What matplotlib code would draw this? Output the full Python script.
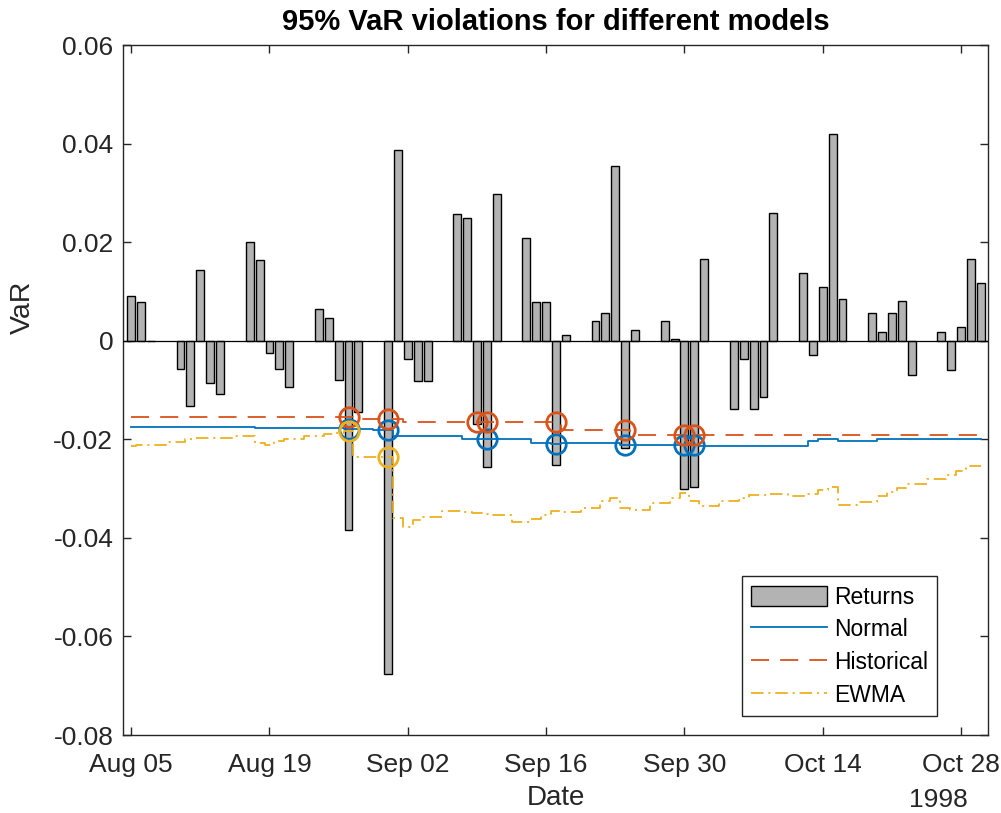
import matplotlib

matplotlib.use("Agg")

import matplotlib.dates as mdates
import matplotlib.pyplot as plt
import numpy as np

plt.rcParams["font.family"] = ["Liberation Sans", "DejaVu Sans"]
plt.rcParams["lines.scale_dashes"] = False

# trading days shown in the chart (Aug 05 - Oct 30, 1998)
dates = np.array([
    "1998-08-05", "1998-08-06", "1998-08-07", "1998-08-10", "1998-08-11", "1998-08-12",
    "1998-08-13", "1998-08-14", "1998-08-17", "1998-08-18", "1998-08-19", "1998-08-20",
    "1998-08-21", "1998-08-24", "1998-08-25", "1998-08-26", "1998-08-27", "1998-08-28",
    "1998-08-31", "1998-09-01", "1998-09-02", "1998-09-03", "1998-09-04", "1998-09-07",
    "1998-09-08", "1998-09-09", "1998-09-10", "1998-09-11", "1998-09-14", "1998-09-15",
    "1998-09-16", "1998-09-17", "1998-09-18", "1998-09-21", "1998-09-22", "1998-09-23",
    "1998-09-24", "1998-09-25", "1998-09-28", "1998-09-29", "1998-09-30", "1998-10-01",
    "1998-10-02", "1998-10-05", "1998-10-06", "1998-10-07", "1998-10-08", "1998-10-09",
    "1998-10-12", "1998-10-13", "1998-10-14", "1998-10-15", "1998-10-16", "1998-10-19",
    "1998-10-20", "1998-10-21", "1998-10-22", "1998-10-23", "1998-10-26", "1998-10-27",
    "1998-10-28", "1998-10-29", "1998-10-30",
], dtype="datetime64[D]")

returns = [
    0.0090, 0.0078, 0.0000, -0.0058, -0.0132, 0.0143,
    -0.0086, -0.0109, 0.0200, 0.0164, -0.0025, -0.0058,
    -0.0094, 0.0065, 0.0046, -0.0079, -0.0383, -0.0145,
    -0.0677, 0.0387, -0.0037, -0.0081, -0.0081, 0.0257,
    0.0249, -0.0168, -0.0256, 0.0297, 0.0208, 0.0078,
    0.0078, -0.0253, 0.0012, 0.0041, 0.0057, 0.0355,
    -0.0218, 0.0021, 0.0041, 0.0004, -0.0301, -0.0296,
    0.0166, -0.0139, -0.0037, -0.0139, -0.0114, 0.0260,
    0.0138, -0.0028, 0.0110, 0.0420, 0.0085, 0.0057,
    0.0018, 0.0057, 0.0081, -0.0069, 0.0017, -0.0060,
    0.0028, 0.0166, 0.0118,
]

var_normal = [
    -0.0175, -0.0175, -0.0175, -0.0175, -0.0175, -0.0175,
    -0.0175, -0.0175, -0.0175, -0.0178, -0.0178, -0.0178,
    -0.0178, -0.0178, -0.0178, -0.0178, -0.0179, -0.0179,
    -0.0181, -0.0194, -0.0194, -0.0194, -0.0194, -0.0194,
    -0.0199, -0.0199, -0.0200, -0.0199, -0.0199, -0.0208,
    -0.0208, -0.0209, -0.0208, -0.0208, -0.0208, -0.0208,
    -0.0212, -0.0211, -0.0211, -0.0211, -0.0212, -0.0212,
    -0.0214, -0.0214, -0.0214, -0.0214, -0.0214, -0.0214,
    -0.0214, -0.0204, -0.0199, -0.0199, -0.0204, -0.0204,
    -0.0200, -0.0200, -0.0200, -0.0200, -0.0200, -0.0200,
    -0.0200, -0.0200, -0.0200,
]

var_historical = [
    -0.0155, -0.0155, -0.0155, -0.0155, -0.0155, -0.0155,
    -0.0155, -0.0155, -0.0155, -0.0155, -0.0155, -0.0155,
    -0.0155, -0.0155, -0.0155, -0.0155, -0.0155, -0.0158,
    -0.0158, -0.0158, -0.0165, -0.0165, -0.0165, -0.0165,
    -0.0165, -0.0165, -0.0165, -0.0165, -0.0165, -0.0165,
    -0.0165, -0.0165, -0.0181, -0.0181, -0.0181, -0.0181,
    -0.0181, -0.0191, -0.0191, -0.0191, -0.0191, -0.0191,
    -0.0191, -0.0191, -0.0191, -0.0191, -0.0191, -0.0191,
    -0.0191, -0.0191, -0.0191, -0.0191, -0.0191, -0.0191,
    -0.0191, -0.0191, -0.0191, -0.0191, -0.0191, -0.0191,
    -0.0191, -0.0191, -0.0191,
]

var_ewma = [
    -0.0214, -0.0211, -0.0211, -0.0205, -0.0199, -0.0198,
    -0.0198, -0.0197, -0.0194, -0.0208, -0.0212, -0.0204,
    -0.0199, -0.0194, -0.0190, -0.0187, -0.0184, -0.0235,
    -0.0235, -0.0360, -0.0378, -0.0364, -0.0358, -0.0346,
    -0.0347, -0.0349, -0.0351, -0.0353, -0.0367, -0.0361,
    -0.0354, -0.0346, -0.0347, -0.0339, -0.0326, -0.0319,
    -0.0339, -0.0343, -0.0329, -0.0320, -0.0309, -0.0326,
    -0.0336, -0.0326, -0.0319, -0.0313, -0.0312, -0.0311,
    -0.0314, -0.0310, -0.0302, -0.0296, -0.0333, -0.0327,
    -0.0316, -0.0307, -0.0298, -0.0290, -0.0280, -0.0273,
    -0.0265, -0.0255, -0.0255,
]

x_ticks = np.array(["1998-08-05", "1998-08-19", "1998-09-02", "1998-09-16",
                    "1998-09-30", "1998-10-14", "1998-10-28"], dtype="datetime64[D]")

blue = "#0072BD"
orange = "#D95319"
yellow = "#EDB120"
text_color = "#262626"

x = mdates.date2num(dates)
r = np.array(returns)

fig = plt.figure(figsize=(10.01, 8.13), dpi=100)
ax = fig.add_axes([0.1229, 0.0959, 0.8641, 0.8487])

ax.bar(x, r, width=0.8, color="#b3b3b3", edgecolor="black", linewidth=1.0,
       label="Returns", zorder=2)
ax.axhline(0, color="black", linewidth=0.9, zorder=3)

series = [
    (var_normal, blue, "-", "Normal"),
    (var_historical, orange, (0, (13, 8)), "Historical"),
    (var_ewma, yellow, (0, (9, 3.5, 1.5, 3.5)), "EWMA"),
]
for values, color, style, name in series:
    v = np.array(values)
    ax.plot(x, v, color=color, linestyle=style, linewidth=1.3,
            drawstyle="steps-mid", label=name, zorder=4)
for values, color, style, name in series:
    v = np.array(values)
    fail = r < v
    ax.plot(x[fail], v[fail], "o", markersize=14, markerfacecolor="none",
            markeredgecolor=color, markeredgewidth=2.0, zorder=5)

ax.set_ylim(-0.08, 0.06)
ax.set_yticks(np.arange(-0.08, 0.0601, 0.02))
ax.set_yticklabels(["-0.08", "-0.06", "-0.04", "-0.02", "0", "0.02", "0.04", "0.06"])
ax.set_xlim(x[0] - 0.82, x[-1] + 0.72)
ax.set_xticks(mdates.date2num(x_ticks))
ax.xaxis.set_major_formatter(mdates.DateFormatter("%b %d"))

ax.tick_params(direction="in", top=True, right=True, length=6, width=1.0,
               colors=text_color, labelsize=19)
ax.tick_params(axis="y", pad=7)
ax.tick_params(axis="x", pad=13)
for side in ax.spines.values():
    side.set_color(text_color)
    side.set_linewidth(1.0)

ax.set_title("95% VaR violations for different models", fontsize=21,
             fontweight="bold", color="black", pad=11)
ax.set_xlabel("Date", fontsize=20, color=text_color, labelpad=6)
ax.set_ylabel("VaR", fontsize=20.5, color=text_color)
ax.yaxis.set_label_coords(-0.101, 0.62)
fig.text(938 / 1001, 1 - 800 / 813, "1998", fontsize=19, color=text_color,
         ha="center", va="center")

handles, labels = ax.get_legend_handles_labels()
order = [labels.index(n) for n in ["Returns", "Normal", "Historical", "EWMA"]]
leg = ax.legend([handles[i] for i in order], [labels[i] for i in order],
                loc="lower right", bbox_to_anchor=(0.941, 0.0275), borderaxespad=0,
                fontsize=16.5, fancybox=False, framealpha=1, edgecolor=text_color,
                handlelength=3.3, handleheight=1.0, handletextpad=0.3,
                labelspacing=0.42, borderpad=0.4)
leg.get_frame().set_linewidth(1.0)
for t in leg.get_texts():
    t.set_color("black")

fig.savefig("out.png", dpi=100)
plt.close(fig)
